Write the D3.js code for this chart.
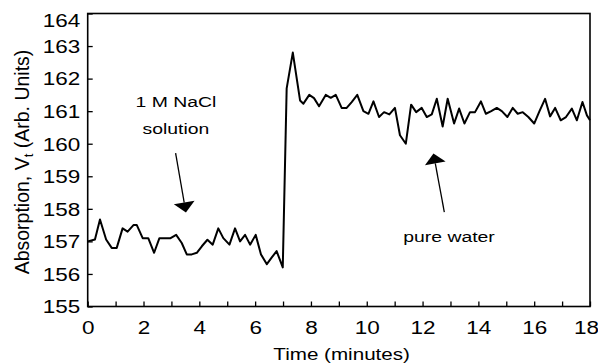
<!DOCTYPE html>
<html>
<head>
<meta charset="utf-8">
<title>Absorption vs time</title>
<script src="https://cdn.jsdelivr.net/npm/d3@7"></script>
<style>
  body { margin: 0; background: #fff; }
  text { font-family: "Liberation Sans", Arial, Helvetica, sans-serif; fill: #000; }
</style>
</head>
<body>
<svg id="chart" width="598" height="364"></svg>
<script>
// data (time in minutes, absorption in arb. units)
var minutes = [0.00, 0.26, 0.44, 0.66, 0.86, 1.04, 1.25, 1.43, 1.64, 1.76, 1.97, 2.17, 2.38, 2.57, 2.77,
  2.97, 3.17, 3.37, 3.55, 3.73, 3.91, 4.09, 4.29, 4.48, 4.68, 4.86, 5.08, 5.28, 5.46, 5.64, 5.82,
  6.02, 6.21, 6.42, 6.59, 6.77, 6.99, 7.13, 7.35, 7.61, 7.73, 7.94, 8.11, 8.29, 8.53, 8.71, 8.89,
  9.10, 9.28, 9.46, 9.66, 9.88, 10.06, 10.24, 10.44, 10.62, 10.81, 11.01, 11.19, 11.40, 11.59, 11.77,
  11.97, 12.15, 12.33, 12.51, 12.72, 12.90, 13.13, 13.31, 13.50, 13.70, 13.88, 14.09, 14.27, 14.46,
  14.66, 14.84, 15.04, 15.23, 15.41, 15.59, 15.79, 16.00, 16.19, 16.39, 16.57, 16.75, 16.95, 17.14,
  17.35, 17.53, 17.73, 17.89, 18.00];
var absorption = [157.00, 157.06, 157.67, 157.06, 156.80, 156.80, 157.40, 157.30, 157.50, 157.50, 157.10,
  157.10, 156.65, 157.10, 157.10, 157.10, 157.20, 156.95, 156.60, 156.60, 156.65, 156.85, 157.05, 156.90,
  157.40, 157.10, 156.90, 157.40, 157.00, 157.20, 156.90, 157.20, 156.60, 156.30, 156.50, 156.70, 156.20,
  161.70, 162.80, 161.33, 161.23, 161.50, 161.40, 161.15, 161.50, 161.41, 161.50, 161.10, 161.10, 161.28,
  161.50, 161.00, 160.92, 161.30, 160.82, 160.97, 160.90, 161.10, 160.26, 160.00, 161.20, 160.97, 161.10,
  160.82, 160.90, 161.38, 160.53, 161.38, 160.62, 161.08, 160.62, 160.97, 160.97, 161.30, 160.92, 161.00,
  161.10, 161.00, 160.82, 161.10, 160.92, 160.97, 160.82, 160.62, 161.00, 161.38, 160.84, 161.10, 160.72,
  160.82, 161.08, 160.72, 161.28, 160.87, 160.72];
var xTicks = d3.range(0, 19, 1);       // minor every minute, labels every 2
var yTicks = d3.range(155, 165, 1);

var svg = d3.select("#chart");
var SX = 1.25; // the scanned lettering is wider than it is tall

var x = d3.scaleLinear().domain([0, 18]).range([87.7, 590]);
var y = d3.scaleLinear().domain([155, 164]).range([306.5, 13.5]);

// frame
svg.append("rect")
  .attr("x", x(0)).attr("y", y(164))
  .attr("width", x(18) - x(0)).attr("height", y(155) - y(164))
  .attr("fill", "none").attr("stroke", "#000").attr("stroke-width", 1.6);

// x axis
var gx = svg.append("g")
  .attr("transform", "translate(0," + y(155) + ")")
  .call(d3.axisBottom(x).tickValues(xTicks).tickSize(-5).tickPadding(15)
    .tickFormat(function (d) { return d % 2 === 0 ? d : ""; }));
gx.select(".domain").remove();
gx.selectAll("line").attr("stroke-width", 1.3);
gx.selectAll("text").attr("font-size", 18)
  .attr("transform", function (d) { return (d === 18 ? "translate(-4,0) " : "") + "scale(" + SX + ",1)"; });

// y axis
var gy = svg.append("g")
  .attr("transform", "translate(" + x(0) + ",0)")
  .call(d3.axisLeft(y).tickValues(yTicks).tickSize(-5).tickPadding(6));
gy.select(".domain").remove();
gy.selectAll("line").attr("stroke-width", 1.3);
gy.selectAll("text").attr("font-size", 18).attr("transform", "scale(" + SX + ",1)")
  .attr("dy", function (d) { return d === 164 ? "0.72em" : "0.35em"; });

// trace
var line = d3.line()
  .x(function (d, i) { return x(minutes[i]); })
  .y(function (d) { return y(d); });
svg.append("path")
  .datum(absorption)
  .attr("d", line)
  .attr("fill", "none")
  .attr("stroke", "#000")
  .attr("stroke-width", 2)
  .attr("stroke-linejoin", "round");

// axis titles
svg.append("text")
  .attr("transform", "translate(" + x(9.1) + ",360) scale(" + SX + ",1)")
  .attr("text-anchor", "middle").attr("font-size", 16.5)
  .text("Time (minutes)");

var yl = svg.append("text")
  .attr("transform", "translate(29," + ((47 + 277) / 2) + ") rotate(-90)")
  .attr("text-anchor", "middle").attr("font-size", 19.5);
yl.append("tspan").text("Absorption, V");
yl.append("tspan").attr("font-size", 13).attr("dy", 4).text("t");
yl.append("tspan").attr("dy", -4).text(" (Arb. Units)");

// annotations (placed in data units)
function label(str, t, v, size) {
  svg.append("text")
    .attr("transform", "translate(" + x(t) + "," + y(v) + ") scale(" + SX + ",1)")
    .attr("text-anchor", "middle").attr("font-size", size)
    .text(str);
}
label("1 M NaCl", 3.16, 161.12, 15.5);
label("solution", 3.16, 160.31, 15.5);
label("pure water", 12.95, 156.98, 15.5);

function arrow(t0, v0, t1, v1) {
  var x0 = x(t0), y0 = y(v0), x1 = x(t1), y1 = y(v1);
  var len = Math.hypot(x1 - x0, y1 - y0);
  var ux = (x1 - x0) / len, uy = (y1 - y0) / len;
  var L = 10, W = 10.5;
  var bx = x1 - L * ux, by = y1 - L * uy;
  svg.append("line")
    .attr("x1", x0).attr("y1", y0).attr("x2", bx).attr("y2", by)
    .attr("stroke", "#000").attr("stroke-width", 1.3);
  svg.append("polygon")
    .attr("points", [[x1, y1], [bx - W * uy, by + W * ux], [bx + W * uy, by - W * ux]].join(" "))
    .attr("fill", "#000");
}
arrow(3.15, 159.71, 3.52, 157.89);
arrow(12.78, 157.90, 12.39, 159.70);
</script>
</body>
</html>
